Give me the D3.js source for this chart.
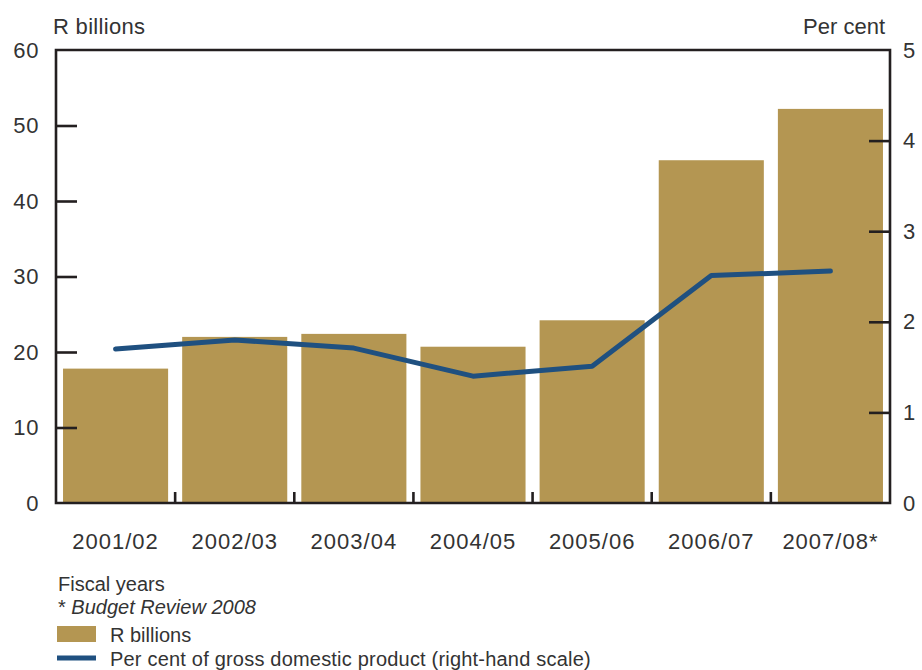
<!DOCTYPE html>
<html>
<head>
<meta charset="utf-8">
<script src="https://cdn.jsdelivr.net/npm/d3@7"></script>
<style>
  html, body { margin: 0; padding: 0; background: #fff; }
  svg { display: block; }
  text { font-family: "Liberation Sans", Arial, Helvetica, sans-serif; fill: #333; }
</style>
</head>
<body>
<svg id="chart" width="922" height="670"></svg>
<script>
// Fiscal years and the two series
const years = ["2001/02", "2002/03", "2003/04", "2004/05", "2005/06", "2006/07", "2007/08*"];
const randBillions = [17.8, 22.0, 22.4, 20.7, 24.2, 45.4, 52.2];
const pctGDP = [1.70, 1.80, 1.71, 1.40, 1.51, 2.51, 2.56];
const leftTicks = [0, 10, 20, 30, 40, 50, 60];
const rightTicks = [0, 1, 2, 3, 4, 5];

const barColor = "#b49652";
const lineColor = "#1f5080";
const axisColor = "#231f20";
const fontFamily = "Liberation Sans, Arial, sans-serif";

const svg = d3.select("#chart");
const m = { left: 56, right: 890, top: 50, bottom: 503 };

const x = d3.scaleBand()
  .domain(years)
  .range([m.left, m.right])
  .paddingInner(0.118)
  .paddingOuter(0.059);

const yL = d3.scaleLinear().domain([0, 60]).range([m.bottom, m.top]);
const yR = d3.scaleLinear().domain([0, 5]).range([m.bottom, m.top]);

// Bars
svg.append("g").selectAll("rect")
  .data(years)
  .join("rect")
  .attr("x", d => x(d))
  .attr("width", x.bandwidth())
  .attr("y", (d, i) => yL(randBillions[i]))
  .attr("height", (d, i) => yL(0) - yL(randBillions[i]))
  .attr("fill", barColor);

// Line on the right-hand scale
const line = d3.line()
  .x((d, i) => x(years[i]) + x.bandwidth() / 2)
  .y(d => yR(d));

svg.append("path")
  .datum(pctGDP)
  .attr("d", line)
  .attr("fill", "none")
  .attr("stroke", lineColor)
  .attr("stroke-width", 5)
  .attr("stroke-linejoin", "round")
  .attr("stroke-linecap", "round");

// Frame: left, top, right and bottom lines
svg.append("path")
  .attr("d", `M${m.left},${m.bottom}V${m.top}H${m.right}V${m.bottom}Z`)
  .attr("fill", "none")
  .attr("stroke", axisColor)
  .attr("stroke-width", 2.6);

// Left axis ticks (inward) and labels
const leftAxis = d3.axisLeft(yL).tickValues(leftTicks).tickSize(-21).tickFormat(d3.format("d"));
const gL = svg.append("g").attr("transform", `translate(${m.left},0)`).call(leftAxis);
gL.select(".domain").remove();
gL.selectAll(".tick line").attr("stroke", axisColor).attr("stroke-width", 2.6)
  .filter(d => d === 0 || d === 60).remove();
gL.selectAll(".tick text").attr("font-size", 22).attr("fill", "#333")
  .attr("font-family", fontFamily).attr("letter-spacing", 0.6).attr("x", -17);

// Right axis ticks (inward) and labels
const rightAxis = d3.axisRight(yR).tickValues(rightTicks).tickSize(-21).tickFormat(d3.format("d"));
const gR = svg.append("g").attr("transform", `translate(${m.right},0)`).call(rightAxis);
gR.select(".domain").remove();
gR.selectAll(".tick line").attr("stroke", axisColor).attr("stroke-width", 2.6)
  .filter(d => d === 0 || d === 5).remove();
gR.selectAll(".tick text").attr("font-size", 22).attr("fill", "#333")
  .attr("font-family", fontFamily).attr("x", 13);

// Bottom axis: ticks at category boundaries, labels centred on bars
const boundaries = years.slice(1).map(d => x(d) - x.step() * x.paddingInner() / 2);
svg.append("g").selectAll("line")
  .data(boundaries)
  .join("line")
  .attr("x1", d => d).attr("x2", d => d)
  .attr("y1", m.bottom).attr("y2", m.bottom - 11)
  .attr("stroke", axisColor).attr("stroke-width", 2.6);

const bottomAxis = d3.axisBottom(x).tickSize(0).tickPadding(0);
const gB = svg.append("g").attr("transform", `translate(0,${m.bottom})`).call(bottomAxis);
gB.select(".domain").remove();
gB.selectAll(".tick text").attr("font-size", 22).attr("fill", "#333")
  .attr("font-family", fontFamily).attr("letter-spacing", 1)
  .attr("dy", null).attr("y", 46);

// Axis titles
svg.append("text").attr("x", 53).attr("y", 34).attr("font-size", 22).attr("letter-spacing", 0.3).text("R billions");
svg.append("text").attr("x", 885).attr("y", 34).attr("font-size", 22).attr("text-anchor", "end").text("Per cent");

// Notes and legend
svg.append("text").attr("x", 58).attr("y", 591).attr("font-size", 20).text("Fiscal years");
const note = svg.append("text").attr("x", 58).attr("y", 614).attr("font-size", 20);
note.append("tspan").text("* ");
note.append("tspan").attr("font-style", "italic").text("Budget Review 2008");

svg.append("rect").attr("x", 57).attr("y", 626).attr("width", 39).attr("height", 16).attr("fill", barColor);
svg.append("text").attr("x", 110).attr("y", 642).attr("font-size", 20).text("R billions");

svg.append("line").attr("x1", 57).attr("x2", 96).attr("y1", 658).attr("y2", 658)
  .attr("stroke", lineColor).attr("stroke-width", 5);
svg.append("text").attr("x", 110).attr("y", 666).attr("font-size", 20).attr("letter-spacing", 0.2)
  .text("Per cent of gross domestic product (right-hand scale)");
</script>
</body>
</html>
